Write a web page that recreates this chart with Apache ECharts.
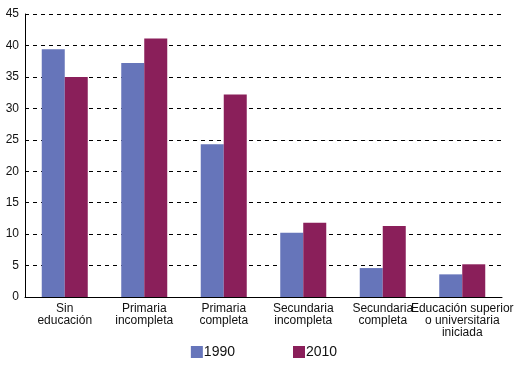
<!DOCTYPE html>
<html><head><meta charset="utf-8">
<script src="https://cdn.jsdelivr.net/npm/echarts@6/dist/echarts.min.js"></script>
<style>html,body{margin:0;padding:0;background:#fff}#c{width:528px;height:365px}</style>
</head><body><div id="c"></div>
<script>
const categories = ['Sin\neducación','Primaria\nincompleta','Primaria\ncompleta','Secundaria\nincompleta','Secundaria\ncompleta','Educación superior\no universitaria\niniciada'];
const seriesNames = ['1990','2010'];
const values1990 = [39.4, 37.2, 24.3, 10.2, 4.6, 3.6];
const values2010 = [35.0, 41.1, 32.2, 11.8, 11.3, 5.2];
const colors = ['#6675ba','#8a1f5a'];

const chart = echarts.init(document.getElementById('c'), null, {renderer:'canvas'});
chart.setOption({
  animation:false,
  textStyle:{fontFamily:'Liberation Sans, Arial, sans-serif'},
  legend:{bottom:1, left:'center', itemWidth:12, itemHeight:12, itemGap:58, icon:'rect',
    textStyle:{fontSize:14, color:'#111', padding:[0,0,0,-4]},
    data:seriesNames},
  grid:{left:25, right:26, top:14, bottom:68, containLabel:false},
  xAxis:{type:'category', data:categories,
    axisLine:{lineStyle:{color:'#000', width:1}}, axisTick:{show:false},
    axisLabel:{fontSize:12, color:'#111', interval:0, lineHeight:12, margin:6}},
  yAxis:{type:'value', min:0, max:45, interval:5,
    axisLine:{show:true, lineStyle:{color:'#000', width:1}}, axisTick:{show:false},
    axisLabel:{fontSize:12, color:'#111', margin:6},
    splitLine:{lineStyle:{color:'#000', type:[4,4], width:1}}},
  series:[
    {name:seriesNames[0], type:'bar', data:values1990, barWidth:23, barGap:'0%', itemStyle:{color:colors[0]}},
    {name:seriesNames[1], type:'bar', data:values2010, barWidth:23, barGap:'0%', itemStyle:{color:colors[1]}}
  ]
});
</script></body></html>
